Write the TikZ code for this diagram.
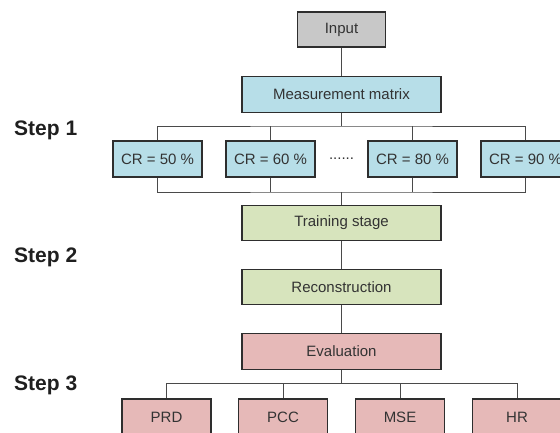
\documentclass[tikz,border=0pt]{standalone}
\usepackage{fontspec}
\setmainfont{Liberation Sans}
\definecolor{inputgray}{HTML}{C8C8C8}
\definecolor{boxblue}{HTML}{B7DEE8}
\definecolor{boxgreen}{HTML}{D7E4BD}
\definecolor{boxpink}{HTML}{E6B9B8}
\definecolor{txt}{HTML}{333333}
\definecolor{edge}{HTML}{2E2E2E}
\definecolor{wire}{HTML}{4A4A4A}
\tikzset{
  box/.style={draw=edge, line width=1.3pt, rectangle, inner sep=0pt,
    text=txt, font=\fontsize{15}{18}\selectfont},
  widebox/.style={box, minimum width=199pt, minimum height=35.5pt},
  smallbox/.style={box, minimum width=89pt, minimum height=36pt},
  steplabel/.style={anchor=base west, inner sep=0pt, text=black!88,
    font=\bfseries\fontsize{21}{25}\selectfont},
  conn/.style={draw=wire, line width=0.8pt}
}
\begin{document}
\begin{tikzpicture}[x=1pt,y=-1pt]
\useasboundingbox (0,0) rectangle (560,432);
\clip (0,0) rectangle (560,432);
% nodes
\node[box, fill=inputgray, minimum width=88pt, minimum height=35pt] (in) at (341.5,29.5) {Input};
\node[widebox, fill=boxblue] (mm) at (341.5,94.5) {Measurement matrix};
\node[smallbox, fill=boxblue] (c50) at (157.5,159) {CR = 50 \%};
\node[smallbox, fill=boxblue] (c60) at (270.5,159) {CR = 60 \%};
\node[text=txt, inner sep=0pt, font=\fontsize{15}{18}\selectfont] (dots) at (341.5,159) {......};
\node[smallbox, fill=boxblue] (c80) at (412.5,159) {CR = 80 \%};
\node[smallbox, fill=boxblue] (c90) at (525.5,159) {CR = 90 \%};
\node[widebox, fill=boxgreen] (tr) at (341.5,223) {Training stage};
\node[widebox, fill=boxgreen] (rc) at (341.5,287) {Reconstruction};
\node[widebox, fill=boxpink] (ev) at (341.5,351.5) {Evaluation};
\node[smallbox, fill=boxpink] (prd) at (166.5,417) {PRD};
\node[smallbox, fill=boxpink] (pcc) at (283,417) {PCC};
\node[smallbox, fill=boxpink] (mse) at (400,417) {MSE};
\node[smallbox, fill=boxpink] (hr) at (517,417) {HR};
% step labels
\node[steplabel] (s1) at (14,135) {Step 1};
\node[steplabel] (s2) at (14,262) {Step 2};
\node[steplabel] (s3) at (14,390) {Step 3};
% bus coordinates
\coordinate (busA) at (341.5,126);
\coordinate (busB) at (341.5,192);
\coordinate (busC) at (341.5,383.5);
% connectors
\draw[conn] (in.south) -- (mm.north);
\draw[conn] (mm.south) -- (busA);
\draw[conn] (c50.north) |- (busA) -| (c90.north);
\draw[conn] (c60.north) -- (c60.north |- busA);
\draw[conn] (c80.north) -- (c80.north |- busA);
\draw[conn] (c50.south) |- (busB) -| (c90.south);
\draw[conn] (c60.south) -- (c60.south |- busB);
\draw[conn] (c80.south) -- (c80.south |- busB);
\draw[conn] (busB) -- (tr.north);
\draw[conn] (tr.south) -- (rc.north);
\draw[conn] (rc.south) -- (ev.north);
\draw[conn] (ev.south) -- (busC);
\draw[conn] (prd.north) |- (busC) -| (hr.north);
\draw[conn] (pcc.north) -- (pcc.north |- busC);
\draw[conn] (mse.north) -- (mse.north |- busC);
\end{tikzpicture}
\end{document}
